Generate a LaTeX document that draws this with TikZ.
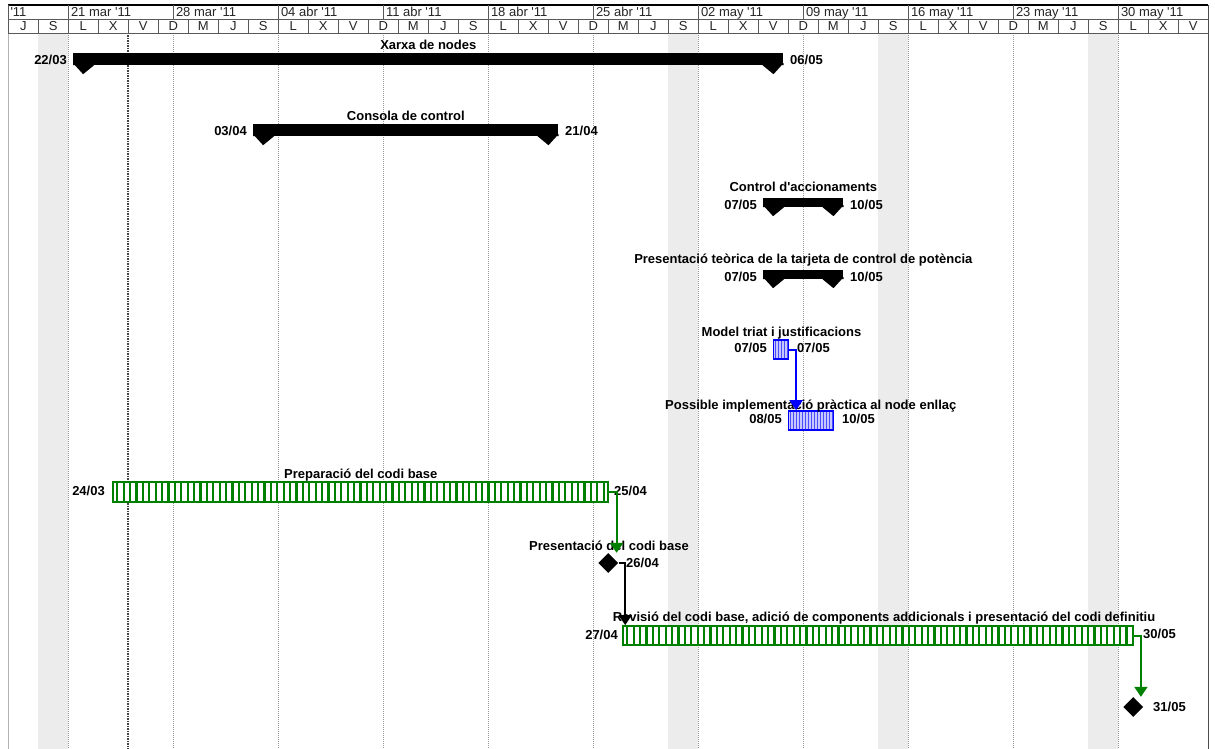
\documentclass[tikz,border=0pt]{standalone}
\usepackage{fontspec}
\setmainfont{Liberation Sans}[Ligatures=TeXOff]
\usetikzlibrary{arrows.meta,shapes.geometric}
\definecolor{msgreen}{RGB}{0,128,0}
\definecolor{msblue}{RGB}{0,0,255}
\definecolor{bandgray}{RGB}{236,236,236}
\newcommand\sbcaps[1]{%
  \fill (#1.south west) -- ++(0,-2) -- ++(10,11) -- ++(11,-9) -- cycle;
  \fill (#1.south east) -- ++(0,-2) -- ++(-10,11) -- ++(-11,-9) -- cycle;}
\begin{document}
\begin{tikzpicture}[x=1pt,y=-1pt,
  hdr/.style={font=\fontsize{13}{15}\selectfont, text=black!85, inner sep=0pt, anchor=base west, yshift=-4.7pt},
  dayl/.style={font=\fontsize{13}{15}\selectfont, text=black!85, inner sep=0pt, anchor=base, yshift=-4.7pt},
  lbl/.style={font=\bfseries\fontsize{13}{15}\selectfont, inner sep=0pt, anchor=base, yshift=-4.7pt},
  dl/.style={lbl, anchor=base east},
  dr/.style={lbl, anchor=base west},
  sbar/.style={fill=black, inner sep=0pt},
  gbar/.style={draw=msgreen, line width=1.8pt, fill=white, inner sep=0pt,
    path picture={\foreach \k in {1,...,90}{\draw[msgreen, line width=2.2pt]
      ([xshift=\k*6.4pt-2.5pt]path picture bounding box.south west) --
      ([xshift=\k*6.4pt-2.5pt]path picture bounding box.north west);}}},
  bbar/.style={draw=msblue, line width=1.6pt, fill=msblue!22, inner sep=0pt,
    path picture={\foreach \k in {1,...,20}{\draw[msblue!70, line width=0.9pt]
      ([xshift=\k*3pt-1pt]path picture bounding box.south west) --
      ([xshift=\k*3pt-1pt]path picture bounding box.north west);}}},
  mstone/.style={diamond, fill=black, inner sep=0pt, minimum size=20pt},
  conn/.style={line width=2pt, -{Triangle[width=13pt,length=10pt]}},
  weekln/.style={gray!80, line width=0.9pt, dash pattern=on 1pt off 1pt},
  hline/.style={gray!70!black, line width=0.8pt}
]
\useasboundingbox (0,0) rectangle (1215,749);
\fill[white] (0,0) rectangle (1215,749);
% non-working bands
\foreach \x in {38.3,668.3,878.3,1088.3}
  \fill[bandgray] (\x,33) rectangle ++(30,716);
% week lines
\foreach \x in {68.3,173.3,278.3,383.3,488.3,593.3,698.3,803.3,908.3,1013.3,1118.3}
  \draw[weekln] (\x,33) -- (\x,749);
% status line
\draw[gray!50!black, line width=2pt, dash pattern=on 1.5pt off 1pt] (128.3,33) -- (128.3,749);
% borders
\draw[gray!60, line width=0.8pt] (8.3,33) -- (8.3,749);
\draw[gray!60!black, line width=0.8pt] (1208.3,5) -- (1208.3,749);
% header frame
\draw[black, line width=1.4pt] (8.3,5) -- (1208.3,5);
\draw[hline] (8.3,5) -- (8.3,33);
\draw[hline] (8.3,19) -- (1208.3,19);
\draw[hline] (8.3,33) -- (1208.3,33);
\foreach \x in {68.3,173.3,278.3,383.3,488.3,593.3,698.3,803.3,908.3,1013.3,1118.3}
  \draw[hline] (\x,5) -- (\x,19);
\foreach \i in {1,...,39}
  \draw[hline] (8.3+30*\i,19) -- (8.3+30*\i,33);
% header texts
\node[hdr] (w0) at (10.3,12) {'11};
\foreach \t [count=\i from 0] in {21 mar '11,28 mar '11,04 abr '11,11 abr '11,18 abr '11,25 abr '11,02 may '11,09 may '11,16 may '11,23 may '11,30 may '11}
  \node[hdr] (w\i) at (70.8+105*\i,12) {\t};
\foreach \L [count=\i from 0] in {J,S,L,X,V,D,M,J,S,L,X,V,D,M,J,S,L,X,V,D,M,J,S,L,X,V,D,M,J,S,L,X,V,D,M,J,S,L,X,V}
  \node[dayl] (d\i) at (23.3+30*\i,26) {\L};

% Xarxa de nodes
\node[sbar, minimum width=710pt, minimum height=12pt] (xarxa) at (428.3,59) {};
\sbcaps{xarxa}
\node[lbl] (xarxat) at (428.3,45) {Xarxa de nodes};
\node[dl] (xarxas) at (67,60) {22/03};
\node[dr] (xarxae) at (790,60) {06/05};

% Consola de control
\node[sbar, minimum width=305pt, minimum height=12pt] (cons) at (405.8,130) {};
\sbcaps{cons}
\node[lbl] (const) at (405.8,116) {Consola de control};
\node[dl] (conss) at (247,131) {03/04};
\node[dr] (conse) at (565,131) {21/04};

% Control d'accionaments
\node[sbar, minimum width=80pt, minimum height=9pt] (acc) at (803.3,202.5) {};
\sbcaps{acc}
\node[lbl] (acct) at (803.3,187) {Control d'accionaments};
\node[dl] (accs) at (757,205) {07/05};
\node[dr] (acce) at (850,205) {10/05};

% Presentacio teorica
\node[sbar, minimum width=80pt, minimum height=9pt] (teo) at (803.3,274.5) {};
\sbcaps{teo}
\node[lbl] (teot) at (803.3,259) {Presentació teòrica de la tarjeta de control de potència};
\node[dl] (teos) at (757,277) {07/05};
\node[dr] (teoe) at (850,277) {10/05};

% Model triat
\node[bbar, minimum width=15pt, minimum height=19pt] (model) at (780.8,349.5) {};
\node[lbl] (modelt) at (781.5,332) {Model triat i justificacions};
\node[dl] (models) at (767,348) {07/05};
\node[dr] (modele) at (797,348) {07/05};

% Possible implementacio
\node[bbar, minimum width=45pt, minimum height=19pt] (impl) at (810.8,420.5) {};
\node[lbl] (implt) at (810.8,405) {Possible implementació pràctica al node enllaç};
\node[dl] (impls) at (782,419) {08/05};
\node[dr] (imple) at (842,419) {10/05};

% Preparacio del codi base
\node[gbar, minimum width=495pt, minimum height=20pt] (prep) at (360.8,492) {};
\node[lbl] (prept) at (360.8,474) {Preparació del codi base};
\node[dl] (preps) at (105,491) {24/03};
\node[dr] (prepe) at (614,491) {25/04};

% Milestone presentacio
\node[mstone] (m1) at (608.3,563) {};
\node[lbl] (m1t) at (609,546) {Presentació del codi base};
\node[dr] (m1d) at (626,563) {26/04};

% Revisio
\node[gbar, minimum width=510pt, minimum height=19pt] (rev) at (878.3,635.5) {};
\node[lbl] (revt) at (884,617) {Revisió del codi base, adició de components addicionals i presentació del codi definitiu};
\node[dl] (revs) at (618,635) {27/04};
\node[dr] (reve) at (1143,634) {30/05};

% Milestone final
\node[mstone] (m2) at (1133.3,707) {};
\node[dr] (m2d) at (1153,707) {31/05};

% connectors
\draw[conn, msblue] (model.east) -- ++(7,0) coordinate (c2) -- (c2 |- impl.north);
\draw[conn, msgreen] (prep.east) -- ++(7.4,0) coordinate (c1) -- (c1 |- m1.north);
\draw[conn, black] (m1.east) -- ++(6.7,0) coordinate (c3) -- (c3 |- rev.north);
\draw[conn, msgreen] (rev.east) -- ++(6.7,0) coordinate (c4) -- (c4 |- m2.north);
\end{tikzpicture}
\end{document}
